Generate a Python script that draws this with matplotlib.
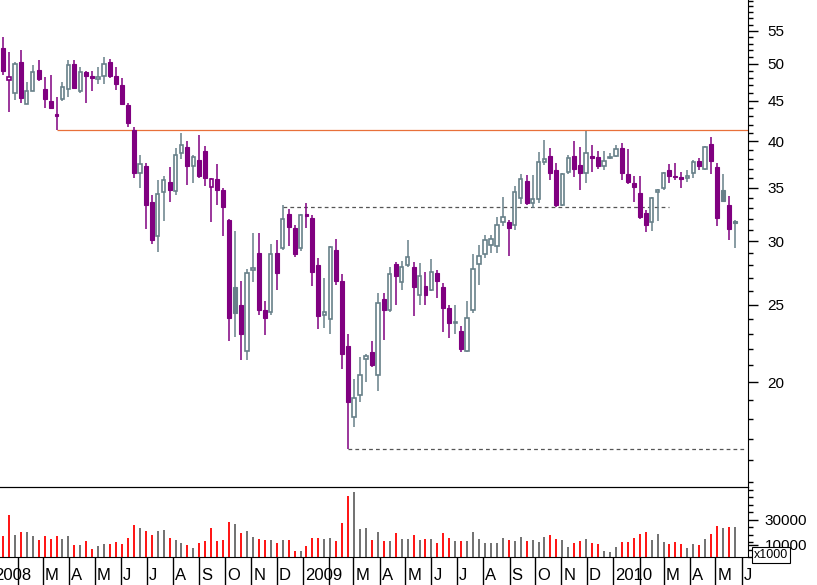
import datetime as dt
import matplotlib
matplotlib.use("Agg")
import matplotlib.pyplot as plt
import matplotlib.dates as mdates
from matplotlib.ticker import FixedLocator, NullFormatter, FuncFormatter, MultipleLocator

plt.rcParams["font.family"] = ["Liberation Sans", "DejaVu Sans"]

# weekly candles, first week starting 2008-01-14
FIRST_WEEK = dt.date(2008, 1, 14)

opens = [52.3, 47.8, 46, 50.3, 44.6, 46.3, 49.2, 46.5, 45, 43.3,
         45.2, 46.5, 50, 46.3, 48.9, 48.3, 47.9, 48.3, 50.3, 48.3,
         47, 44.4, 41.3, 36.5, 37.3, 33.6, 30.5, 34.6, 35.6, 34.7,
         38.7, 39.4, 37.3, 37.9, 38.9, 35.1, 35.9, 34.8, 31.9, 26.3,
         25, 21.9, 27.6, 29, 24.6, 24.5, 29, 29.4, 32.5, 31.2,
         29.4, 32.5, 32.1, 28, 24.3, 24, 29.3, 26.8, 22.2, 18.1,
         19.3, 21.4, 21.8, 20.4, 25.4, 24.6, 28.1, 26.7, 28, 27.9,
         25.7, 26.4, 26.1, 27.4, 26.3, 24.8, 23.7, 23.2, 21.9, 24.6,
         28.1, 28.9, 29.7, 29.6, 31.7, 31.7, 31.5, 34, 35.7, 33.5,
         33.9, 37.7, 38.4, 36.8, 33.3, 36.6, 38.4, 37.4, 36.5, 38.4,
         38.2, 37.3, 38.1, 38.4, 39.3, 36.4, 35.5, 34.5, 32.6, 31.7,
         34.6, 35, 36.8, 36.2, 36.1, 36, 36.5, 37.8, 37, 39.7,
         37.2, 34.8, 33.3, 31.8]
highs = [54, 51.7, 50.3, 52, 47.5, 49.8, 50.5, 48.1, 48.4, 45.4,
         47.5, 50.6, 50.5, 49.5, 49, 49, 49.6, 51, 50.7, 49.5,
         48, 44.7, 41.7, 38.5, 37.6, 34.3, 35.8, 36.2, 37.2, 39.3,
         41, 40.1, 38.5, 40.8, 39.5, 36, 37.5, 35, 32, 30.9,
         26.8, 27.7, 30.7, 30.7, 25.3, 29.8, 30.1, 33.3, 32.9, 31.5,
         32.5, 33.5, 32.4, 28.6, 27, 29.6, 30.2, 27.3, 23, 20.2,
         21.5, 21.7, 22.5, 25.9, 25.9, 27.9, 28.3, 28.4, 30.1, 28.3,
         28.2, 27.5, 28.5, 27.6, 26.6, 25, 25, 23.5, 25.3, 28.9,
         29.7, 30.6, 30.6, 32.2, 34.1, 31.9, 35.2, 36.4, 36.3, 36.3,
         38.8, 40.2, 39.3, 37.6, 36.5, 38.5, 40, 39.4, 41.2, 39.6,
         38.9, 38.9, 38.7, 39.6, 39.8, 39.2, 36.2, 36.2, 32.8, 34.1,
         34.9, 36.6, 37.5, 37.6, 36.6, 36.8, 37.9, 38.1, 39.5, 40.5,
         37.6, 36.4, 34.2, 31.9]
lows = [48.4, 43.5, 45.1, 44.7, 44.5, 46.2, 47.6, 44, 43.9, 41.35,
        45, 45.5, 46.5, 46, 44.7, 46.2, 47.2, 47.2, 48, 46.4,
        44.5, 41.7, 36, 35, 31.1, 29.8, 29.1, 31.8, 33.6, 34.3,
        38, 35.3, 35.5, 36, 35.2, 31.7, 33.3, 30.5, 22.5, 22.8,
        21.3, 21.3, 26.7, 24.3, 22.9, 24.3, 26.1, 29.3, 29.6, 28.7,
        29.2, 31.2, 26.4, 23.3, 23.4, 23, 26.5, 20.8, 16.5, 17.6,
        18.9, 20, 20.9, 19.5, 22.6, 24.5, 25, 26.1, 27.9, 24.2,
        25, 25, 26, 25.5, 23.1, 22.7, 23, 21.8, 21.8, 24.4,
        26.5, 28.6, 29, 29, 31.4, 28.8, 31, 33.4, 33.3, 33,
        33.5, 37.4, 35.8, 33.1, 33.2, 36.4, 36.1, 34.8, 35.5, 36.6,
        37, 36.9, 38, 38.3, 35.8, 35.4, 33.6, 32, 30.8, 30.9,
        31.8, 34.8, 35.5, 35.8, 35, 35.6, 36, 36.9, 36.9, 36.4,
        31.4, 33.6, 30.1, 29.4]
closes = [49, 48.1, 50, 45.3, 46.2, 48.9, 47.9, 45.2, 44, 43.1,
          46.8, 49.9, 46.7, 48.9, 48.3, 48, 48.1, 50, 48.3, 47.2,
          44.6, 42.2, 36.5, 37.5, 33.3, 30.1, 34.4, 35.8, 34.8, 38.5,
          39.6, 37.3, 38.2, 36.2, 36.0, 35.9, 34.8, 33.1, 24.1, 24.4,
          23, 27.4, 27.8, 24.6, 24.1, 28.9, 27.4, 32, 31.3, 28.9,
          32.4, 32.3, 27.5, 24.2, 24.5, 29.5, 26.8, 21.7, 18.9, 19.1,
          20.4, 21.6, 21, 25.1, 24.6, 27.3, 27.2, 27.9, 28.7, 26.3,
          27.2, 25.7, 27.5, 26.8, 24.8, 23.7, 23.8, 22, 24.1, 27.7,
          28.8, 30.1, 30.2, 31.5, 32.2, 31.2, 34.6, 35.9, 33.5, 33.9,
          37.7, 38, 36.5, 33.3, 36.4, 38.1, 37, 36.5, 38.7, 38.1,
          37.3, 37.8, 38.3, 39.1, 36.5, 35.6, 35.1, 32.2, 31.5, 34,
          34.8, 36.5, 36.2, 36.1, 35.9, 36.2, 37.7, 37.3, 39.4, 37.8,
          32.1, 33.7, 31.1, 31.6]
volumes = [16600, 33400, 17900, 19800, 19800, 17100, 13900, 16600, 14700, 17100,
           14700, 16600, 9900, 9900, 13100, 6700, 9100, 10700, 10700, 11700,
           10700, 15500, 25900, 23500, 21100, 17400, 20600, 21400, 15500, 13900,
           10900, 9900, 7500, 11500, 13100, 23500, 13100, 13900, 28300, 26700,
           19000, 20600, 16300, 14700, 13900, 13900, 10900, 13900, 13900, 4500,
           4500, 9100, 15500, 15500, 14700, 15500, 13100, 27000, 48600, 51800,
           22700, 23500, 13900, 20300, 13100, 13100, 19500, 14700, 14700, 17900,
           13600, 14400, 14400, 11200, 19200, 15200, 12800, 12800, 12800, 20000,
           14400, 11200, 11200, 11200, 15200, 13600, 12800, 16000, 12800, 13600,
           12000, 16000, 17600, 14400, 13600, 8000, 11200, 12800, 14400, 11200,
           10400, 4500, 3700, 7700, 11700, 11700, 15000, 18200, 19800, 13900,
           18200, 11700, 10100, 11700, 10700, 7500, 10700, 9300, 14700, 18200,
           24600, 23000, 23800, 23800]

resistance_level = 41.35
resistance_from = 9
support_level = 33.1
support_span = (47, 112)
low_level = 16.5
low_from = 58

month_letters = ["J", "F", "M", "A", "M", "J", "J", "A", "S", "O", "N", "D"]
price_ticks = [20, 25, 30, 35, 40, 45, 50, 55]

PURPLE = "#800080"
GREY = "#678089"

weeks = [FIRST_WEEK + dt.timedelta(days=7 * i) for i in range(len(closes))]
x = mdates.date2num(weeks)

fig = plt.figure(figsize=(8.17, 5.85), dpi=100)
ax = fig.add_axes([0, 98 / 585, 748 / 817, 487 / 585])
axv = fig.add_axes([0, 28 / 585, 748 / 817, 70 / 585], sharex=ax)
axv.patch.set_alpha(0)

# candles
for i in range(len(closes)):
    o, h, l, c = opens[i], highs[i], lows[i], closes[i]
    prev = closes[i - 1] if i else o
    col = GREY if c >= prev else PURPLE
    ax.vlines(x[i], l, h, color=col, lw=1.1, zorder=2)
    lo, hi = min(o, c), max(o, c)
    if hi - lo < 0.12:
        hi = lo + 0.12
    if c < o:
        ax.bar(x[i], hi - lo, bottom=lo, width=4.6, color=col, edgecolor=col,
               lw=0.8, zorder=3)
    else:
        ax.bar(x[i], hi - lo, bottom=lo, width=4.0, facecolor="white",
               edgecolor=col, lw=1.2, zorder=3)
    vcol = "#666666" if c >= prev else "#ff0000"
    axv.vlines(x[i], 0, volumes[i], color=vcol, lw=1.3)

x_left = x[0] - 3.5
x_right = x[0] + 125.2 * 7

ax.hlines(resistance_level, x[resistance_from], x_right, color="#e8703a", lw=0.9, zorder=1)
ax.hlines(support_level, x[support_span[0]], x[support_span[1]], color="#555555",
          lw=0.9, linestyles=(0, (3, 2.5)), zorder=1)
ax.hlines(low_level, x[low_from], x_right - 2, color="#555555",
          lw=0.9, linestyles=(0, (3, 2.5)), zorder=1)

ax.set_yscale("log")
ax.set_ylim(14.8, 60.1)
ax.yaxis.set_major_locator(FixedLocator(price_ticks))
ax.yaxis.set_minor_locator(FixedLocator([v for v in range(15, 61) if v not in price_ticks]))
ax.yaxis.set_major_formatter(FuncFormatter(lambda v, p: f"{v:g}"))
ax.yaxis.set_minor_formatter(NullFormatter())
ax.yaxis.tick_right()
ax.tick_params(axis="y", which="major", length=7.2, width=1, labelsize=11, pad=7)
ax.tick_params(axis="y", which="minor", length=3.6, width=1)
ax.tick_params(axis="x", which="both", bottom=False, labelbottom=False)
for side in ["left", "top"]:
    ax.spines[side].set_visible(False)

axv.set_ylim(0, 56000)
axv.yaxis.tick_right()
axv.yaxis.set_major_locator(FixedLocator([10000, 30000]))
axv.yaxis.set_minor_locator(MultipleLocator(6000))
axv.tick_params(axis="y", which="major", length=7.2, width=1, labelsize=11, pad=5)
axv.tick_params(axis="y", which="minor", length=3.6, width=1)
axv.spines["left"].set_visible(False)

# month ticks under the volume panel
months = []
d = dt.date(2008, 1, 1)
while d <= dt.date(2010, 6, 1):
    months.append(d)
    d = dt.date(d.year + d.month // 12, d.month % 12 + 1, 1)
axv.set_xticks(mdates.date2num(months))
axv.set_xlim(x_left, x_right)
axv.tick_params(axis="x", which="major", length=20, width=1, labelbottom=False)
axv.tick_params(axis="x", which="minor", bottom=False)
for m in months:
    if m.month == 2:
        continue
    label = str(m.year) if m.month == 1 else month_letters[m.month - 1]
    axv.annotate(label, xy=(mdates.date2num(m), 0), xycoords=("data", "axes fraction"),
                 xytext=(1.5, -13.5), textcoords="offset points", va="center",
                 ha="left", fontsize=12, annotation_clip=False)

fig.text(754 / 817, 1 - 555 / 585, "x1000", fontsize=9, va="center", ha="left", zorder=10,
         bbox=dict(boxstyle="square,pad=0.15", facecolor="white", edgecolor="black", lw=0.8))

fig.savefig("out.png", dpi=100)
